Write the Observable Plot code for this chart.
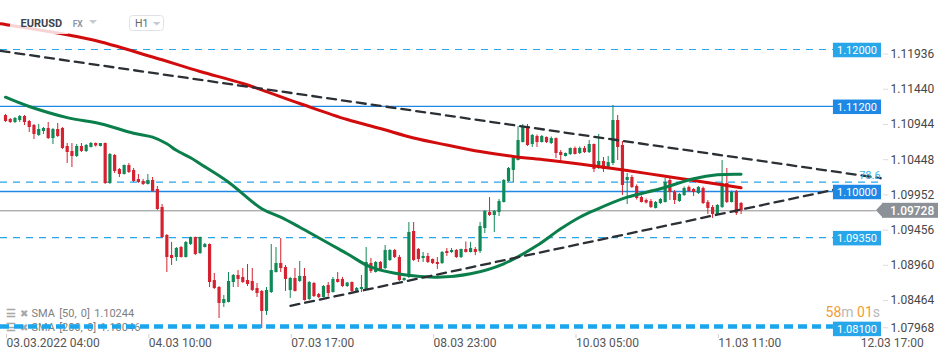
<!DOCTYPE html>
<html><head><meta charset="utf-8">
<script src="https://cdn.jsdelivr.net/npm/d3@7"></script>
<script src="https://cdn.jsdelivr.net/npm/@observablehq/plot@0.6"></script>
<style>
html,body{margin:0;padding:0;background:#fff;}
#wrap{position:relative;width:950px;height:360px;overflow:hidden;font-family:Roboto,"Noto Sans",sans-serif;}
#under,#chart,#over{position:absolute;left:0;top:0;}
#under{z-index:0}#chart{z-index:1}#over{z-index:2;pointer-events:none}
#chart svg{background:transparent !important;}
</style></head><body>
<div id="wrap">
<svg id="under" width="950" height="360" font-family="Roboto, sans-serif"></svg>
<div id="chart"></div>
<svg id="over" width="950" height="360" font-family="Roboto, sans-serif"></svg>
</div>
<script>
// ---- data (EURUSD H1) ----
const open = [1.11070,1.11014,1.10972,1.11000,1.11056,1.10986,1.10930,1.10789,1.10845,1.10887,
1.10746,1.10873,1.10887,1.10634,1.10563,1.10493,1.10634,1.10563,1.10620,1.10676,
1.10634,1.10676,1.10113,1.10507,1.10310,1.10239,1.10366,1.10296,1.10169,1.10141,
1.10099,1.10155,1.10028,1.09775,1.09380,1.09099,1.09070,1.09211,1.09070,1.09254,
1.09352,1.09127,1.09211,1.09254,1.08746,1.08648,1.08423,1.08437,1.08718,1.08817,
1.08789,1.08746,1.08732,1.08634,1.08592,1.08310,1.08577,1.08859,1.08986,1.08930,
1.08606,1.08775,1.08732,1.08803,1.08479,1.08704,1.08549,1.08507,1.08676,1.08577,
1.08761,1.08761,1.08662,1.08718,1.08592,1.08620,1.08620,1.08986,1.08859,1.09000,
1.08915,1.09028,1.09169,1.09070,1.08746,1.08789,1.09437,1.09183,1.09056,1.09085,
1.09042,1.09000,1.08986,1.09155,1.09141,1.09169,1.09070,1.09183,1.09141,1.09183,
1.09155,1.09479,1.09704,1.09662,1.09704,1.09845,1.10141,1.10296,1.10437,1.10690,
1.10915,1.10662,1.10775,1.10690,1.10761,1.10676,1.10746,1.10549,1.10493,1.10521,
1.10606,1.10535,1.10606,1.10549,1.10662,1.10324,1.10423,1.10338,1.10394,1.11000,
1.10648,1.10155,1.10197,1.10070,1.09915,1.09873,1.09859,1.09761,1.09831,1.09845,
1.10155,1.09986,1.09859,1.09944,1.10056,1.10028,1.09972,1.10042,1.09845,1.09775,
1.09676,1.09775,1.10113,1.09845,1.10000,1.09831];
const high = [1.11085,1.11028,1.11042,1.11070,1.11070,1.11000,1.10944,1.10944,1.10901,1.10972,
1.10887,1.10958,1.10901,1.10676,1.10676,1.10662,1.10676,1.10662,1.10690,1.10683,
1.10676,1.10683,1.10535,1.10521,1.10324,1.10373,1.10394,1.10324,1.10239,1.10169,
1.10239,1.10197,1.10070,1.09817,1.09394,1.09282,1.09211,1.09225,1.09296,1.09359,
1.09359,1.09359,1.09268,1.09261,1.08845,1.08662,1.08535,1.08859,1.08831,1.08887,
1.08915,1.08972,1.08915,1.08704,1.08606,1.08648,1.09254,1.09211,1.09338,1.08958,
1.08789,1.08915,1.09014,1.08915,1.08732,1.08718,1.08563,1.08676,1.08718,1.08789,
1.08859,1.08789,1.08718,1.08725,1.08648,1.08817,1.09211,1.09056,1.09014,1.09014,
1.09239,1.09183,1.09183,1.09099,1.08782,1.09563,1.09563,1.09197,1.09141,1.09127,
1.09049,1.09070,1.09155,1.09197,1.09197,1.09183,1.09190,1.09289,1.09282,1.09211,
1.09563,1.09732,1.09915,1.09732,1.09887,1.10169,1.10338,1.10479,1.10915,1.10944,
1.10944,1.10803,1.10796,1.10789,1.10768,1.10768,1.10754,1.10577,1.10542,1.10613,
1.10627,1.10627,1.10634,1.10718,1.10669,1.10803,1.10479,1.10493,1.11211,1.11070,
1.10704,1.10254,1.10225,1.10092,1.09937,1.09894,1.09887,1.09859,1.09901,1.10183,
1.10190,1.10014,1.09972,1.10063,1.10077,1.10042,1.10070,1.10063,1.09873,1.09803,
1.09817,1.10437,1.10324,1.10007,1.10014,1.09845];
const low = [1.10972,1.10958,1.10958,1.10972,1.10930,1.10831,1.10732,1.10775,1.10803,1.10732,
1.10662,1.10761,1.10592,1.10394,1.10338,1.10479,1.10549,1.10549,1.10613,1.10627,
1.10627,1.10099,1.10099,1.10254,1.10197,1.10232,1.10254,1.10127,1.10113,1.10085,
1.10092,1.09993,1.09732,1.09338,1.08859,1.08958,1.09014,1.09063,1.09063,1.09239,
1.09099,1.09113,1.09204,1.08648,1.08620,1.08211,1.08366,1.08430,1.08648,1.08648,
1.08704,1.08662,1.08592,1.08507,1.08070,1.08254,1.08563,1.08852,1.08859,1.08592,
1.08493,1.08585,1.08718,1.08458,1.08465,1.08507,1.08493,1.08500,1.08521,1.08570,
1.08711,1.08648,1.08648,1.08577,1.08577,1.08577,1.08606,1.08845,1.08852,1.08873,
1.08901,1.09014,1.09056,1.08732,1.08732,1.08775,1.09014,1.09000,1.09000,1.08986,
1.08972,1.08901,1.08972,1.09085,1.09127,1.09056,1.09056,1.09134,1.09134,1.09099,
1.09127,1.09408,1.09648,1.09423,1.09648,1.09838,1.10127,1.10127,1.10430,1.10683,
1.10634,1.10620,1.10620,1.10683,1.10676,1.10662,1.10465,1.10408,1.10486,1.10507,
1.10514,1.10521,1.10535,1.10535,1.10268,1.10310,1.10268,1.10310,1.10366,1.10437,
1.09944,1.09817,1.10042,1.09880,1.09838,1.09824,1.09761,1.09754,1.09817,1.09838,
1.09873,1.09817,1.09845,1.09930,1.09993,1.09930,1.09958,1.09817,1.09676,1.09620,
1.09662,1.09761,1.09831,1.09838,1.09662,1.09676];
const close = [1.10986,1.10972,1.11028,1.11056,1.10972,1.10901,1.10803,1.10873,1.10887,1.10746,
1.10873,1.10775,1.10606,1.10549,1.10493,1.10634,1.10563,1.10648,1.10676,1.10641,
1.10676,1.10113,1.10521,1.10282,1.10239,1.10366,1.10268,1.10141,1.10127,1.10099,
1.10155,1.10000,1.09746,1.09352,1.09070,1.09056,1.09197,1.09070,1.09282,1.09352,
1.09113,1.09352,1.09254,1.08718,1.08634,1.08423,1.08479,1.08732,1.08817,1.08761,
1.08718,1.08690,1.08606,1.08563,1.08310,1.08606,1.08887,1.08986,1.08915,1.08761,
1.08775,1.08592,1.08803,1.08465,1.08718,1.08521,1.08507,1.08662,1.08563,1.08761,
1.08718,1.08662,1.08711,1.08592,1.08634,1.08648,1.09000,1.08873,1.09000,1.08887,
1.09169,1.09169,1.09070,1.08746,1.08775,1.09423,1.09028,1.09042,1.09085,1.09000,
1.08986,1.08972,1.09141,1.09127,1.09169,1.09070,1.09183,1.09141,1.09197,1.09141,
1.09507,1.09718,1.09662,1.09718,1.09859,1.10155,1.10324,1.10465,1.10718,1.10915,
1.10648,1.10789,1.10690,1.10775,1.10690,1.10746,1.10535,1.10507,1.10535,1.10606,
1.10521,1.10606,1.10549,1.10662,1.10310,1.10423,1.10310,1.10408,1.11000,1.10620,
1.10085,1.10197,1.10056,1.09901,1.09845,1.09838,1.09775,1.09845,1.09887,1.10127,
1.09986,1.09873,1.09958,1.10042,1.10000,1.09986,1.10056,1.09831,1.09761,1.09676,
1.09803,1.10113,1.09845,1.09986,1.09690,1.09728];

const sma50Bar = [0,5,13,20,27,31,34,36,39,41,47,54,58,62,72,77,84,91,98,105,112,117,121,124,131,138,145,150,155];
const sma50Val = [1.11328,1.11197,1.11040,1.10954,1.10820,1.10765,1.10672,1.10580,1.10475,1.10390,1.10131,1.09756,1.09638,1.09497,1.09123,1.08934,1.08827,1.08793,1.08841,1.08982,1.09239,1.09475,1.09638,1.09732,1.09920,1.10038,1.10179,1.10236,1.10244];
const sma200Bar = [-1,0,18,31,41,50,62,72,79,86,93,100,107,114,121,131,138,145,152,155];
const sma200Val = [1.12362,1.12352,1.12141,1.11894,1.11690,1.11521,1.11239,1.11014,1.10887,1.10754,1.10655,1.10563,1.10493,1.10444,1.10387,1.10296,1.10225,1.10155,1.10085,1.10052];

const trendTopBar = [-1.05, 184.4], trendTopVal = [1.11980, 1.10187];
const trendLowBar = [60.05, 174.46], trendLowVal = [1.08389, 1.10023];

const solidLevels = [1.11200, 1.10000];
const dashedLevels = [1.12000, 1.09350];
const supportLevels = [1.08100];
const fibLevels = [1.10131];
const fibLabels = ["78.6"];
const lastPrice = 1.09728;

const yTicks = [1.11936,1.11440,1.10944,1.10448,1.09952,1.09456,1.08960,1.08464,1.07968];
const xTickBars = [0,30,60,90,120,150,180];
const xTickLabels = ["03.03.2022 04:00","04.03 10:00","07.03 17:00","08.03 23:00","10.03 05:00","11.03 11:00","12.03 17:00"];

const legendTexts = ["SMA [50, 0] 1.10244", "SMA [200, 0] 1.10046"];

// ---- build ----
const RED = "#d52230", GREEN = "#0f8a56";
const candles = open.map((o, i) => ({k: i, o, h: high[i], l: low[i], c: close[i], up: close[i] >= o}));
const sma50 = sma50Bar.map((k, i) => ({k, v: sma50Val[i]}));
const sma200 = sma200Bar.map((k, i) => ({k, v: sma200Val[i]}));
const trendTop = trendTopBar.map((k, i) => ({k, v: trendTopVal[i]}));
const trendLow = trendLowBar.map((k, i) => ({k, v: trendLowVal[i]}));

const X0 = -1.053, X1 = 184.8, KBOX = 174.46, KFIB = 184.4, KLAST = 183.5;
const LIGHT = "#27a6ea", DARK = "#1e88e5";

const chart = Plot.plot({
  width: 950, height: 360,
  marginLeft: 0, marginRight: 68, marginTop: 0, marginBottom: 26,
  style: {background: "transparent", fontFamily: "Roboto, sans-serif", overflow: "visible"},
  x: {domain: [X0, X1], axis: null, label: null},
  y: {domain: [1.079859, 1.126901], axis: null, label: null},
  marks: [
    Plot.ruleY(dashedLevels, {y: d => d, x1: X0, x2: KBOX, stroke: LIGHT, strokeWidth: 1.2, strokeDasharray: "7,6"}),
    Plot.ruleY(fibLevels, {y: d => d, x1: X0, x2: KFIB, stroke: LIGHT, strokeWidth: 1.2, strokeDasharray: "7,6"}),
    Plot.ruleY(solidLevels, {y: d => d, x1: X0, x2: KBOX, stroke: DARK, strokeWidth: 1.3}),
    Plot.ruleY([lastPrice], {y: d => d, x1: X0, x2: KLAST, stroke: "#8e8e8e", strokeWidth: 1}),
    Plot.ruleX(candles, {x: "k", y1: "l", y2: "h", stroke: d => d.up ? GREEN : RED, strokeWidth: 1}),
    Plot.ruleX(candles, {x: "k", y1: "o", y2: "c", stroke: d => d.up ? GREEN : RED, strokeWidth: 3.2}),
    Plot.line(sma200, {x: "k", y: "v", stroke: "#d20c0c", strokeWidth: 3, curve: "catmull-rom"}),
    Plot.line(sma50, {x: "k", y: "v", stroke: "#0a7f4b", strokeWidth: 3, curve: "catmull-rom"}),
    Plot.line(trendTop, {x: "k", y: "v", stroke: "#2c3035", strokeWidth: 2.3, strokeDasharray: "9,6"}),
    Plot.line(trendLow, {x: "k", y: "v", stroke: "#2c3035", strokeWidth: 2.3, strokeDasharray: "9,6"}),
    Plot.ruleY(supportLevels, {y: d => d, x1: X0, x2: KBOX, stroke: "#1aa5ec", strokeWidth: 4.5, strokeDasharray: "9,5"}),
    Plot.text(fibLevels, {x: KFIB, y: d => d, text: (d, i) => fibLabels[i], textAnchor: "end", dy: -7, fill: "#3aaee8", fontSize: 11}),
    Plot.axisY(yTicks.slice(0, -1), {anchor: "right", label: null, tickSize: 5, tickPadding: 3, stroke: "#dcdcdc", fill: "#474747", fontSize: 12, tickFormat: d => d.toFixed(5)}),
    Plot.axisY(yTicks.slice(-1), {anchor: "right", label: null, tickSize: 5, tickPadding: 3, stroke: "#dcdcdc", fill: "#474747", fontSize: 12, dy: -8, tickFormat: d => d.toFixed(5)}),
    Plot.axisX(xTickBars, {anchor: "bottom", label: null, tickSize: 4, tickPadding: 0, stroke: "#d0d0d0", fill: "#555", fontSize: 12, textAnchor: "start", dx: 1, tickFormat: d => xTickLabels[xTickBars.indexOf(d)]})
  ]
});
document.getElementById("chart").appendChild(chart);

// price tags positioned through the plot's scales
const sx = chart.scale("x"), sy = chart.scale("y");
const right = sx.apply(X1);
const tagLeft = sx.apply(KBOX);
const svg = d3.select(chart);
const g = svg.append("g").attr("font-family", "Roboto, sans-serif").attr("text-anchor", "start");
const tags = [
  ...dashedLevels.map(p => ({p, fill: LIGHT, off: 1})),
  ...solidLevels.map(p => ({p, fill: DARK, off: 1})),
  ...supportLevels.map(p => ({p, fill: LIGHT, off: 3}))
];
tags.forEach(t => {
  const y = sy.apply(t.p) + t.off;
  g.append("rect").attr("x", tagLeft).attr("y", y - 7.25).attr("width", right - 1 - tagLeft).attr("height", 14.5).attr("fill", t.fill);
  g.append("text").attr("x", (tagLeft + right - 1) / 2).attr("y", y).attr("dy", "0.36em")
    .attr("text-anchor", "middle").attr("fill", "#fff").attr("font-size", 11).text(t.p.toFixed(5));
});
{
  const y = sy.apply(lastPrice), xl = sx.apply(KLAST);
  g.append("path").attr("d", `M${xl},${y} L${right + 1},${y - 7.5} L${right + 1},${y + 7.5} Z`).attr("fill", "#8b9196");
  g.append("rect").attr("x", right).attr("y", y - 7.5).attr("width", 56).attr("height", 15).attr("fill", "#8b9196");
  g.append("text").attr("x", right + 8).attr("y", y).attr("dy", "0.36em").attr("text-anchor", "start").attr("fill", "#fff")
    .attr("font-size", 12).attr("font-weight", 500).text(lastPrice.toFixed(5));
}

// legend (under the chart lines)
const under = d3.select("#under");
legendTexts.forEach((t, i) => {
  const yb = 317 + i * 14;
  under.append("text").attr("x", 5.5).attr("y", yb).attr("font-size", 11).attr("font-weight", 700).attr("fill", "#a8a8a8").text("☰");
  under.append("text").attr("x", 19.5).attr("y", yb).attr("font-size", 10).attr("fill", "#a8a8a8").text("✖");
  under.append("text").attr("x", 31.5).attr("y", yb).attr("font-size", 11).attr("word-spacing", "1.5px").attr("fill", "#7f7f7f").text(t);
});

// header + timer overlay
const over = d3.select("#over");
over.append("rect").attr("x", 10).attr("y", 13).attr("width", 58).attr("height", 21).attr("fill", "rgba(255,255,255,0.82)");
over.append("text").attr("x", 20.5).attr("y", 27.3).attr("font-size", 11).attr("font-weight", 700).attr("fill", "#3d4449").text("EURUSD");
over.append("text").attr("x", 72.7).attr("y", 26.7).attr("font-size", 8.5).attr("font-weight", 700).attr("fill", "#8a99a8").text("FX");
over.append("path").attr("d", "M89,20 L97,20 L93,24 Z").attr("fill", "#c5cbd1");
over.append("rect").attr("x", 129.5).attr("y", 15.5).attr("width", 34).attr("height", 15).attr("rx", 3).attr("fill", "#fff").attr("stroke", "#dfe3e7");
over.append("text").attr("x", 135).attr("y", 27.3).attr("font-size", 10.5).attr("fill", "#62676c").text("H1");
over.append("path").attr("d", "M152.7,22 L160.7,22 L156.7,25.5 Z").attr("fill", "#c5cbd1");
const timer = over.append("text").attr("x", 880).attr("y", 317).attr("text-anchor", "end").attr("font-size", 14);
timer.append("tspan").attr("fill", "#f39c33").text("58");
timer.append("tspan").attr("fill", "#b8b8b8").text("m ");
timer.append("tspan").attr("fill", "#f39c33").text("01");
timer.append("tspan").attr("fill", "#b8b8b8").text("s");
</script>
</body></html>
